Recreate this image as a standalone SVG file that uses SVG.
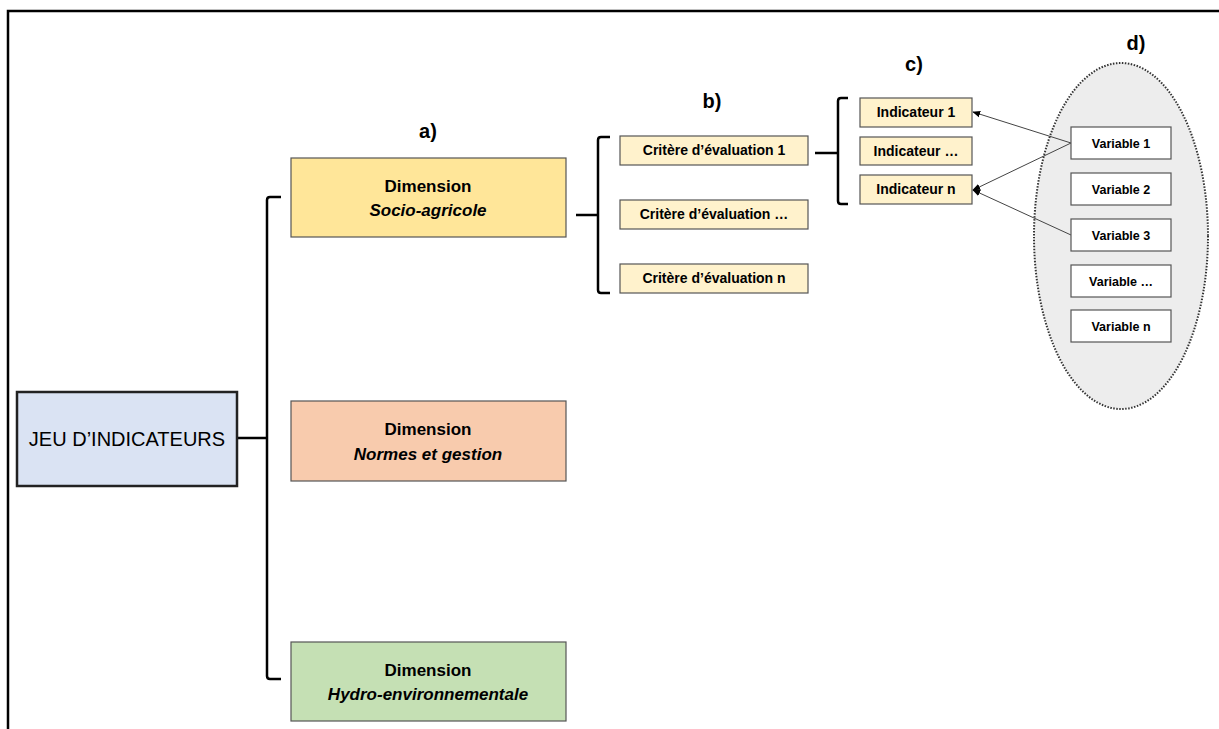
<svg xmlns="http://www.w3.org/2000/svg" width="1219" height="729" viewBox="0 0 1219 729">
<style>
.t{font-family:"Liberation Sans",Arial,sans-serif;fill:#000;text-anchor:middle}
.b{font-weight:bold}
.box{stroke:#555;stroke-width:1.2}
.br{fill:none;stroke:#000;stroke-width:2.5}
.ar{fill:none;stroke:#444;stroke-width:1}
</style>
<defs>
<marker id="ah" viewBox="0 0 10 10" refX="9" refY="5" markerWidth="8" markerHeight="8" orient="auto" markerUnits="userSpaceOnUse">
<path d="M0,1 L10,5 L0,9 z" fill="#000"/>
</marker>
</defs>
<rect width="1219" height="729" fill="#fff"/>
<path d="M8,729 V11 H1219" fill="none" stroke="#000" stroke-width="2.5"/>

<g id="labels">
<text class="t b" x="428" y="138" font-size="20">a)</text>
<text class="t b" x="712" y="108" font-size="20">b)</text>
<text class="t b" x="914" y="71" font-size="20">c)</text>
<text class="t b" x="1136" y="50" font-size="20">d)</text>
</g>

<g id="variables-group">
<ellipse cx="1121" cy="236" rx="87" ry="173" fill="#ededed" stroke="#333" stroke-width="2" stroke-dasharray="1.5 1.5"/>
</g>

<g id="connectors">
<path class="br" d="M237,438 H267 M281,197 H270 Q267,197 267,200 V676 Q267,679 270,679 H281"/>
<path class="br" d="M576,215 H598 M610,137 H601 Q598,137 598,140 V290 Q598,293 601,293 H610"/>
<path class="br" d="M815,153 H838 M848,98 H841 Q838,98 838,101 V201 Q838,204 841,204 H848"/>
<line class="ar" x1="1071" y1="143" x2="973" y2="112" marker-end="url(#ah)"/>
<line class="ar" x1="1071" y1="143" x2="973" y2="190" marker-end="url(#ah)"/>
<line class="ar" x1="1071" y1="235" x2="973" y2="190" marker-end="url(#ah)"/>
</g>

<g id="jeu">
<rect x="17" y="392" width="220" height="94" fill="#dae3f3" stroke="#222" stroke-width="2.5"/>
<text class="t" x="127" y="446" font-size="20">JEU D’INDICATEURS</text>
</g>

<g id="dim-socio">
<rect class="box" x="291" y="158" width="275" height="79" fill="#ffe699"/>
<text class="t b" x="428" y="192" font-size="17">Dimension</text>
<text class="t b" x="428" y="216" font-size="17" font-style="italic">Socio-agricole</text>
</g>
<g id="dim-normes">
<rect class="box" x="291" y="401" width="275" height="80" fill="#f8cbad"/>
<text class="t b" x="428" y="435" font-size="17">Dimension</text>
<text class="t b" x="428" y="460" font-size="17" font-style="italic">Normes et gestion</text>
</g>
<g id="dim-hydro">
<rect class="box" x="291" y="642" width="275" height="79" fill="#c5e0b4"/>
<text class="t b" x="428" y="676" font-size="17">Dimension</text>
<text class="t b" x="428" y="700" font-size="17" font-style="italic">Hydro-environnementale</text>
</g>

<g id="crit-1">
<rect class="box" x="620" y="136" width="188" height="29" fill="#fff2cc"/>
<text class="t b" x="714" y="155" font-size="14">Critère d’évaluation 1</text>
</g>
<g id="crit-2">
<rect class="box" x="620" y="200" width="188" height="29" fill="#fff2cc"/>
<text class="t b" x="714" y="219" font-size="14">Critère d’évaluation …</text>
</g>
<g id="crit-n">
<rect class="box" x="620" y="264" width="188" height="29" fill="#fff2cc"/>
<text class="t b" x="714" y="283" font-size="14">Critère d’évaluation n</text>
</g>

<g id="ind-1">
<rect class="box" x="860" y="98" width="112" height="29" fill="#fff2cc"/>
<text class="t b" x="916" y="117" font-size="14">Indicateur 1</text>
</g>
<g id="ind-2">
<rect class="box" x="860" y="137" width="112" height="28" fill="#fff2cc"/>
<text class="t b" x="916" y="156" font-size="14">Indicateur …</text>
</g>
<g id="ind-n">
<rect class="box" x="860" y="175" width="112" height="29" fill="#fff2cc"/>
<text class="t b" x="916" y="194" font-size="14">Indicateur n</text>
</g>

<g id="var-1">
<rect class="box" x="1071" y="127" width="100" height="32" fill="#fff"/>
<text class="t b" x="1121" y="148" font-size="12.5">Variable 1</text>
</g>
<g id="var-2">
<rect class="box" x="1071" y="173" width="100" height="32" fill="#fff"/>
<text class="t b" x="1121" y="194" font-size="12.5">Variable 2</text>
</g>
<g id="var-3">
<rect class="box" x="1071" y="219" width="100" height="32" fill="#fff"/>
<text class="t b" x="1121" y="240" font-size="12.5">Variable 3</text>
</g>
<g id="var-4">
<rect class="box" x="1071" y="265" width="100" height="32" fill="#fff"/>
<text class="t b" x="1121" y="286" font-size="12.5">Variable …</text>
</g>
<g id="var-n">
<rect class="box" x="1071" y="310" width="100" height="32" fill="#fff"/>
<text class="t b" x="1121" y="331" font-size="12.5">Variable n</text>
</g>
</svg>
